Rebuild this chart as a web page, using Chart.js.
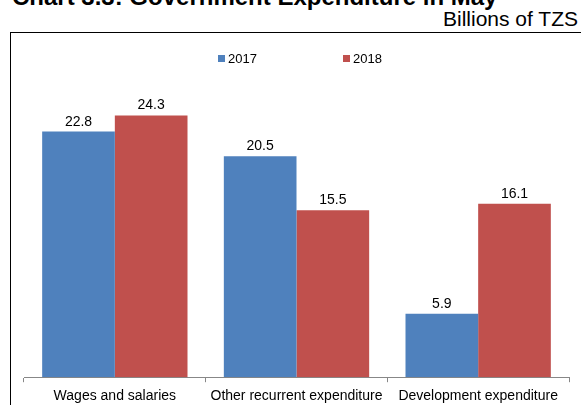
<!DOCTYPE html>
<html>
<head>
<meta charset="utf-8">
<script src="https://cdn.jsdelivr.net/npm/chart.js@4.4.0/dist/chart.umd.min.js"></script>
<style>
  body { margin: 0; width: 581px; height: 405px; overflow: hidden; background: #fff; font-family: "Liberation Sans", Arial, sans-serif; position: relative; }
  #title { position: absolute; left: 12px; top: -15px; font-size: 24px; line-height: 24px; font-weight: bold; color: #000; white-space: nowrap; }
  #unit { position: absolute; right: 3px; top: 7px; font-size: 21px; line-height: 24px; color: #000; white-space: nowrap; }
  #box { position: absolute; left: 10px; top: 32px; width: 571px; height: 373px; border-top: 1px solid #000; border-left: 1px solid #000; overflow: hidden; }
  #box canvas { position: absolute; left: 0; top: 0; }
</style>
</head>
<body>
<div id="title">Chart 3.3: Government Expenditure in May</div>
<div id="unit">Billions of TZS</div>
<div id="box"><canvas id="myChart" width="570" height="378"></canvas></div>
<script>
const categories = ['Wages and salaries', 'Other recurrent expenditure', 'Development expenditure']
const values2017 = [22.8, 20.5, 5.9]
const values2018 = [24.3, 15.5, 16.1]
const seriesNames = ['2017', '2018']

const fontFamily = '"Liberation Sans", Arial, sans-serif'

// value labels above each bar
const barValues = {
  id: 'barValues',
  afterDatasetsDraw(chart) {
    const ctx = chart.ctx
    ctx.save()
    ctx.font = '14px ' + fontFamily
    ctx.fillStyle = '#000'
    ctx.textAlign = 'center'
    ctx.textBaseline = 'alphabetic'
    chart.data.datasets.forEach((ds, i) => {
      chart.getDatasetMeta(i).data.forEach((bar, j) => {
        ctx.fillText(ds.data[j].toFixed(1), bar.x, bar.y - 6)
      })
    })
    ctx.restore()
  }
}

// legend drawn as two spaced items near the top
const topLegend = {
  id: 'topLegend',
  afterDraw(chart) {
    const ctx = chart.ctx
    const startX = [207, 332]
    ctx.save()
    ctx.font = '13px ' + fontFamily
    ctx.textBaseline = 'middle'
    ctx.textAlign = 'left'
    chart.data.datasets.forEach((ds, i) => {
      ctx.fillStyle = ds.backgroundColor
      ctx.fillRect(startX[i], 22, 7, 7)
      ctx.fillStyle = '#000'
      ctx.fillText(ds.label, startX[i] + 10, 26)
    })
    ctx.restore()
  }
}

new Chart(document.getElementById('myChart'), {
  type: 'bar',
  data: {
    labels: categories,
    datasets: [
      { label: seriesNames[0], data: values2017, backgroundColor: '#4F81BD' },
      { label: seriesNames[1], data: values2018, backgroundColor: '#C0504D' }
    ]
  },
  options: {
    responsive: false,
    animation: false,
    layout: { padding: { left: 13, right: 12, top: 21, bottom: 0 } },
    plugins: { legend: { display: false }, tooltip: { enabled: false } },
    datasets: { bar: { categoryPercentage: 0.8, barPercentage: 1.0 } },
    scales: {
      x: {
        grid: { drawOnChartArea: false, drawTicks: true, tickLength: 5, color: '#878787', offset: true },
        border: { display: true, color: '#878787' },
        ticks: { color: '#000', padding: 6, font: { size: 14, family: fontFamily }, maxRotation: 0, autoSkip: false }
      },
      y: { display: false, min: 0, max: 30 }
    }
  },
  plugins: [barValues, topLegend]
})
</script>
</body>
</html>
